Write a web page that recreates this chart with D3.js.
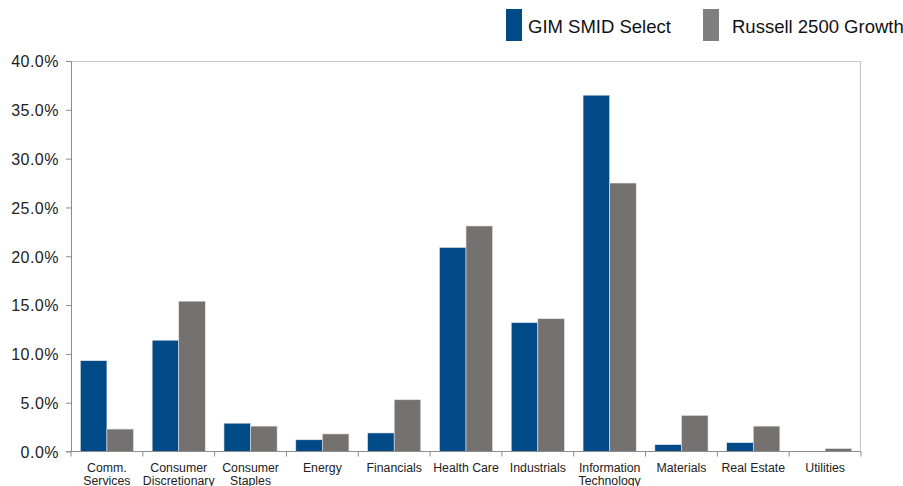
<!DOCTYPE html>
<html>
<head>
<meta charset="utf-8">
<script src="https://cdn.jsdelivr.net/npm/d3@7"></script>
<style>
  body { margin: 0; background: #fff; }
  svg { display: block; font-family: "Liberation Sans", Arial, sans-serif; }
</style>
</head>
<body>
<div id="main-frame"></div>
<script>
// Sector weights (%)
const sectors = [
  ["Comm.", "Services"],
  ["Consumer", "Discretionary"],
  ["Consumer", "Staples"],
  ["Energy"],
  ["Financials"],
  ["Health Care"],
  ["Industrials"],
  ["Information", "Technology"],
  ["Materials"],
  ["Real Estate"],
  ["Utilities"],
];
const gimSmid = [9.3, 11.4, 2.9, 1.2, 1.9, 20.9, 13.2, 36.5, 0.7, 0.9, 0.0];
const russell = [2.3, 15.4, 2.6, 1.8, 5.3, 23.1, 13.6, 27.5, 3.7, 2.6, 0.3];
const seriesNames = ["GIM SMID Select", "Russell 2500 Growth"];
const yTicks = [0, 5, 10, 15, 20, 25, 30, 35, 40];

const colors = ["#004a87", "#767171"];
const legendColors = ["#004a87", "#7f7f7f"];

const W = 903, H = 486;
const margin = { top: 61, right: 42, bottom: 34.5, left: 71 };
const width = W - margin.left - margin.right;
const height = H - margin.top - margin.bottom;

const svg = d3
  .select("#main-frame")
  .append("svg")
  .attr("width", W)
  .attr("height", H);

const g = svg
  .append("g")
  .attr("transform", `translate(${margin.left}, ${margin.top})`);

const xScale = d3
  .scaleBand()
  .domain(d3.range(sectors.length))
  .range([0, width])
  .paddingInner(0.26)
  .paddingOuter(0.13);

const xInner = d3
  .scaleBand()
  .domain([0, 1])
  .range([0, xScale.bandwidth()]);

const yScale = d3.scaleLinear().domain([0, 40]).range([height, 0]);

// plot frame (top / right)
g.append("path")
  .attr("d", `M0,0.5H${width - 0.5}V${height}`)
  .attr("fill", "none")
  .attr("stroke", "#c8c8c8")
  .attr("stroke-width", 1.2);

// bars
const data = sectors.map((s, i) => ({ i, vals: [gimSmid[i], russell[i]] }));

const groups = g
  .selectAll(".group")
  .data(data)
  .enter()
  .append("g")
  .attr("class", "group")
  .attr("transform", (d) => `translate(${xScale(d.i)}, 0)`);

groups
  .selectAll("rect")
  .data((d) => d.vals.map((v, k) => ({ v, k })))
  .enter()
  .append("rect")
  .attr("x", (d) => xInner(d.k))
  .attr("y", (d) => yScale(d.v))
  .attr("width", xInner.bandwidth())
  .attr("height", (d) => height - yScale(d.v))
  .attr("fill", (d) => colors[d.k])
  .attr("stroke", (d) => (d.v > 0 ? "#e4e4e4" : "none"))
  .attr("stroke-width", 0.6);

// y axis
const yAxis = d3
  .axisLeft(yScale)
  .tickValues(yTicks)
  .tickSize(5)
  .tickPadding(7)
  .tickFormat((d) => d.toFixed(1) + "%");

const yG = g.append("g").attr("id", "y-axis").call(yAxis);
yG.select(".domain").attr("stroke", "#8c8c8c").attr("d", `M-5,0.5H0.5V${height}H-5`);
yG.selectAll(".tick line").attr("stroke", "#8c8c8c");
yG.selectAll(".tick text")
  .attr("fill", "#222")
  .style("font-size", "16px")
  .style("letter-spacing", "0.5px")
  .attr("dy", "0.36em");

// x axis: baseline with ticks between categories
const step = xScale.step();
const boundaries = d3.range(sectors.length + 1).map((i) => i * step);

const xG = g
  .append("g")
  .attr("id", "x-axis")
  .attr("transform", `translate(0, ${height})`);

xG.append("line")
  .attr("x1", 0)
  .attr("x2", width)
  .attr("stroke", "#8c8c8c")
  .attr("stroke-width", 1.2);

xG.selectAll(".xtick")
  .data(boundaries)
  .enter()
  .append("line")
  .attr("class", "xtick")
  .attr("x1", (d) => d)
  .attr("x2", (d) => d)
  .attr("y1", 0)
  .attr("y2", 5)
  .attr("stroke", "#8c8c8c");

const labels = xG
  .selectAll(".xlabel")
  .data(sectors)
  .enter()
  .append("text")
  .attr("class", "xlabel")
  .attr("x", (d, i) => xScale(i) + xScale.bandwidth() / 2)
  .attr("y", 20.5)
  .attr("text-anchor", "middle")
  .attr("fill", "#222")
  .style("font-size", "12.3px");

labels
  .selectAll("tspan")
  .data((d) => d)
  .enter()
  .append("tspan")
  .attr("x", function () {
    return d3.select(this.parentNode).attr("x");
  })
  .attr("dy", (d, i) => (i === 0 ? 0 : 13))
  .text((d) => d);

// legend
const legendItems = [
  { name: seriesNames[0], color: legendColors[0], x: 506 },
  { name: seriesNames[1], color: legendColors[1], x: 703 },
];

const legend = svg.append("g").attr("id", "legend");

legend
  .selectAll("rect")
  .data(legendItems)
  .enter()
  .append("rect")
  .attr("x", (d) => d.x)
  .attr("y", 9)
  .attr("width", 16)
  .attr("height", 32)
  .attr("fill", (d) => d.color);

legend
  .selectAll("text")
  .data(legendItems)
  .enter()
  .append("text")
  .attr("x", (d, i) => d.x + (i === 0 ? 22 : 29))
  .attr("y", 33.3)
  .attr("fill", "#111")
  .style("font-size", "18.5px")
  .text((d) => d.name);
</script>
</body>
</html>
